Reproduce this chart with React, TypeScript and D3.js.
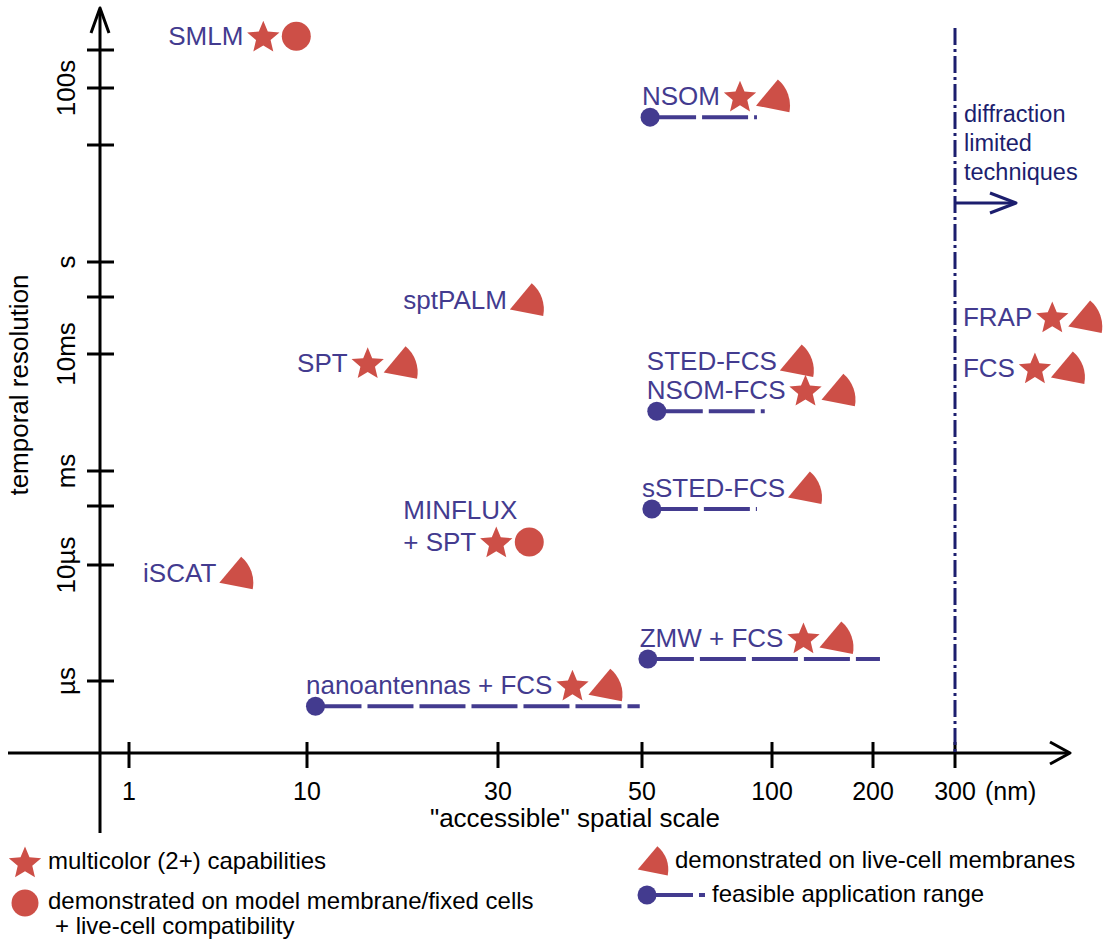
import React, { useRef, useEffect } from "react";
import * as d3 from "d3";

// spatial scale ticks (nm)
const xTicks = [1, 10, 30, 50, 100, 200, 300];
// temporal ticks (s) and their labels
const yTicks = [1e-6, 1e-5, 1e-4, 1e-3, 1e-2, 1e-1, 1, 10, 100, 1000];
const yTickLabels = ["µs", "10µs", "", "ms", "10ms", "", "s", "", "100s", ""];

// techniques: label, where the label starts (nm), temporal resolution (s)
const techniqueNames = [
  "SMLM", "NSOM", "sptPALM", "SPT", "STED-FCS", "NSOM-FCS", "FRAP", "FCS",
  "sSTED-FCS", "MINFLUX\n+ SPT", "iSCAT", "ZMW + FCS", "nanoantennas + FCS",
];
const techniqueNm = [1.66, 50, 17.4, 8.8, 51.3, 51.3, 312, 312, 50, 17.4, 1.2, 49.6, 9.87];
const techniqueTime = [2300, 72, 0.089, 0.0084, 0.0087, 0.0049, 0.0446, 0.0076, 3.27e-4, 2.45e-5, 8.5e-6, 2.35e-6, 9.2e-7];
const techniqueMarkers = [
  ["star", "circle"], ["star", "triangle"], ["triangle"], ["star", "triangle"],
  ["triangle"], ["star", "triangle"], ["star", "triangle"], ["star", "triangle"],
  ["triangle"], ["star", "circle"], ["triangle"], ["star", "triangle"], ["star", "triangle"],
];
// feasible application range (nm), null = none
const rangeStart = [null, 52.2, null, null, null, 54.1, null, null, 52.7, null, null, 51.6, 10.5];
const rangeEnd = [null, 92.3, null, null, null, 96.2, null, null, 92.3, null, null, 207, 49.6];

const diffractionLimit = 300;
const diffractionText = ["diffraction", "limited", "techniques"];

const PURPLE = "#433b8f";
const RED = "#cd4f47";
const NAVY = "#1c1e6e";
const FONT = "'Liberation Sans', Arial, Helvetica, sans-serif";

export default function App() {
  const svgRef = useRef(null);

  useEffect(() => {
    const svg = d3.select(svgRef.current);
    svg.selectAll("*").remove();
    svg.attr("font-family", FONT);

    // piecewise log scales, like the hand-spaced axes of the figure
    const x = d3.scaleLog().domain(xTicks).range([129, 307, 498, 642, 772, 873, 955]);
    const y = d3.scaleLog().domain(yTicks).range([681, 565, 506, 471, 354, 297, 262, 145, 88, 50]);

    // a slightly chunky five pointed star
    const starPath = (R) =>
      d3.lineRadial()
        .angle((d, i) => (i * Math.PI) / 5)
        .radius((d, i) => (i % 2 ? R * 0.45 : R))
        .curve(d3.curveLinearClosed)(d3.range(10));
    const wedge = (r) =>
      d3.arc()({ innerRadius: 0, outerRadius: r, startAngle: (40 * Math.PI) / 180, endAngle: (101 * Math.PI) / 180 });

    const drawMarker = (g, type, cx, cy, scale = 1) => {
      if (type === "star") {
        g.append("path").attr("d", starPath(17 * scale))
          .attr("transform", `translate(${cx},${cy + 1.5})`).attr("fill", RED);
      } else if (type === "circle") {
        g.append("circle").attr("cx", cx).attr("cy", cy).attr("r", 14.5 * scale).attr("fill", RED);
      } else {
        const r = 34 * scale;
        g.append("path").attr("d", wedge(r))
          .attr("transform", `translate(${cx - r / 2},${cy + 0.28 * r})`).attr("fill", RED);
      }
    };

    // axes
    const axes = svg.append("g").attr("stroke", "black").attr("stroke-width", 3).attr("fill", "none");
    axes.append("line").attr("x1", 100).attr("x2", 100).attr("y1", 9).attr("y2", 833);
    axes.append("path").attr("d", "M91,33L100,8L109,33").attr("stroke-linejoin", "round");
    axes.append("line").attr("x1", 8).attr("x2", 1069).attr("y1", 753).attr("y2", 753);
    axes.append("path").attr("d", "M1050,742L1070,753L1050,764").attr("stroke-linejoin", "round");

    axes.selectAll(".ytick").data(yTicks).join("line").attr("class", "ytick")
      .attr("x1", 87).attr("x2", 114).attr("y1", (d) => y(d)).attr("y2", (d) => y(d));
    axes.selectAll(".xtick").data(xTicks).join("line").attr("class", "xtick")
      .attr("y1", 742).attr("y2", 768).attr("x1", (d) => x(d)).attr("x2", (d) => x(d));

    svg.append("g").selectAll("text").data(yTicks).join("text")
      .attr("transform", (d) => `translate(75,${y(d)}) rotate(-90)`)
      .attr("text-anchor", "middle").attr("font-size", 26)
      .text((d, i) => yTickLabels[i]);
    svg.append("g").selectAll("text").data(xTicks).join("text")
      .attr("x", (d) => x(d)).attr("y", 800).attr("text-anchor", "middle").attr("font-size", 25)
      .text((d) => d);
    svg.append("text").attr("x", x(300) + 30).attr("y", 800).attr("font-size", 25).text("(nm)");
    svg.append("text").attr("x", 575).attr("y", 827).attr("text-anchor", "middle").attr("font-size", 26)
      .text('"accessible" spatial scale');
    svg.append("text").attr("transform", "translate(28,385) rotate(-90)").attr("text-anchor", "middle")
      .attr("font-size", 26).text("temporal resolution");

    // diffraction limit
    const xd = x(diffractionLimit);
    svg.append("line").attr("x1", xd).attr("x2", xd).attr("y1", 28).attr("y2", 753)
      .attr("stroke", NAVY).attr("stroke-width", 3).attr("stroke-dasharray", "17 4 3 4");
    svg.append("g").selectAll("text").data(diffractionText).join("text")
      .attr("x", xd + 9).attr("y", (d, i) => 122 + i * 29).attr("font-size", 23.5).attr("fill", NAVY)
      .text((d) => d);
    svg.append("line").attr("x1", xd).attr("x2", xd + 60).attr("y1", 203).attr("y2", 203)
      .attr("stroke", NAVY).attr("stroke-width", 3);
    svg.append("path").attr("d", `M${xd + 35},193L${xd + 61},203L${xd + 35},213`)
      .attr("fill", "none").attr("stroke", NAVY).attr("stroke-width", 3).attr("stroke-linejoin", "round");

    // techniques
    techniqueNames.forEach((name, i) => {
      const g = svg.append("g");
      const x0 = x(techniqueNm[i]);
      const cy = y(techniqueTime[i]);
      const lines = name.split("\n");
      let last = null;
      lines.forEach((line, k) => {
        last = g.append("text").attr("x", x0).attr("y", cy + 9 - (lines.length - 1 - k) * 32)
          .attr("font-size", 26).attr("fill", PURPLE).text(line);
      });
      const w = last.node().getComputedTextLength();
      let mx = x0 + w + 20;
      techniqueMarkers[i].forEach((m) => {
        drawMarker(g, m, mx, cy);
        mx += 33;
      });
      if (rangeStart[i] != null) {
        const ly = cy + 21;
        g.append("line").attr("x1", x(rangeStart[i])).attr("x2", x(rangeEnd[i])).attr("y1", ly).attr("y2", ly)
          .attr("stroke", PURPLE).attr("stroke-width", 4).attr("stroke-dasharray", "46 6");
        g.append("circle").attr("cx", x(rangeStart[i])).attr("cy", ly).attr("r", 9.5).attr("fill", PURPLE);
      }
    });

    // legend
    const lg = svg.append("g").attr("font-size", 24).attr("fill", "black");
    drawMarker(lg, "star", 25, 862);
    lg.append("text").attr("x", 48).attr("y", 869).text("multicolor (2+) capabilities");
    drawMarker(lg, "circle", 25, 903, 0.93);
    lg.append("text").attr("x", 48).attr("y", 909).text("demonstrated on model membrane/fixed cells");
    lg.append("text").attr("x", 55).attr("y", 934).text("+ live-cell compatibility");
    drawMarker(lg, "triangle", 653, 861, 0.9);
    lg.append("text").attr("x", 675).attr("y", 868).text("demonstrated on live-cell membranes");
    lg.append("line").attr("x1", 647).attr("x2", 705).attr("y1", 895).attr("y2", 895)
      .attr("stroke", PURPLE).attr("stroke-width", 4).attr("stroke-dasharray", "46 6");
    lg.append("circle").attr("cx", 647).attr("cy", 895).attr("r", 9.5).attr("fill", PURPLE);
    lg.append("text").attr("x", 712).attr("y", 902).text("feasible application range");
  }, []);

  return (
    <div style={{ position: "absolute", left: 0, top: 0, background: "white" }}>
      <svg ref={svgRef} width={1105} height={941} style={{ display: "block" }}></svg>
    </div>
  );
}
